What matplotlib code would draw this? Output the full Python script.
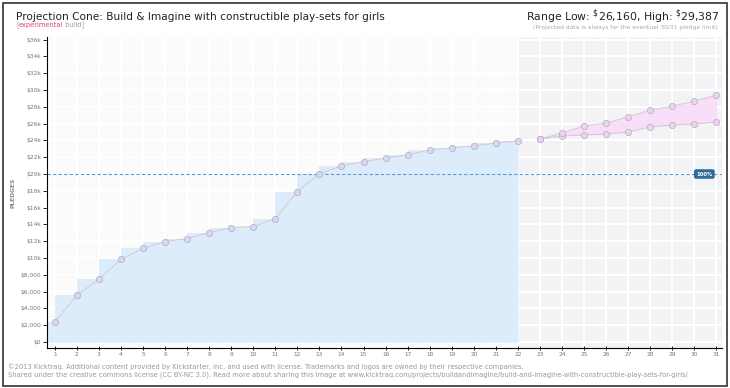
import numpy as np
import matplotlib
matplotlib.use("Agg")
import matplotlib.pyplot as plt
from matplotlib.patches import Rectangle
from matplotlib.ticker import FuncFormatter

# actual pledges (days 1-22)
days = list(range(1, 23))
pledged = [2370, 5570, 7465, 9835, 11140, 11970, 12320, 13035, 13630, 13745,
           14690, 17890, 20025, 20975, 21450, 21920, 22280, 22870, 23110, 23340,
           23700, 23930]

# projection cone (days 22-31)
proj_days = [22, 23, 24, 25, 26, 27, 28, 29, 30, 31]
proj_low = [23930, 24170, 24520, 24640, 24760, 25000, 25590, 25830, 25950, 26160]
proj_high = [23930, 24170, 24880, 25710, 26060, 26780, 27610, 28080, 28670, 29387]

goal = 20000
y_ticks = list(range(0, 36001, 2000))
x_ticks = list(range(1, 32))

title = "Projection Cone: Build & Imagine with constructible play-sets for girls"
footer1 = ("\u00a92013 Kicktraq. Additional content provided by Kickstarter, Inc. and used with license. "
           "Trademarks and logos are owned by their respective companies.")
footer2 = ("Shared under the creative commons license (CC BY-NC 3.0). Read more about sharing this image at "
           "www.kicktraq.com/projects/buildandimagine/build-and-imagine-with-constructible-play-sets-for-girls/")


def money(v, pos=None):
    if v == 0:
        return "$0"
    if v < 10000:
        return "${:,.0f}".format(v)
    return "${:.0f}k".format(v / 1000)


plt.rcParams['font.family'] = ['DejaVu Sans']

W, H = 730, 388
fig = plt.figure(figsize=(7.3, 3.88), dpi=100)
ax = fig.add_axes([47 / W, 40 / H, 675 / W, 311 / H])
ax.set_facecolor('#fbfbfb')

# projection region shading
ax.axvspan(22, 31.3, color='#f3f3f5', zorder=0)

# actual fills: step under, lavender between line and step
ax.fill_between([0.6] + days, [pledged[0]] + pledged, 0, color='#e7e3f7', zorder=1, lw=0)
ax.fill_between([0.6] + days, [pledged[0]] + pledged, 0, step='pre', color='#ddecfb', zorder=1, lw=0)

# projection cone
ax.fill_between(proj_days, proj_low, proj_high, color='#f8def8', zorder=1, lw=0)

# goal line
ax.axhline(goal, color='#5a9ccc', lw=0.8, ls=(0, (3, 2)), zorder=2)
ax.text(30.45, goal, "100%", fontsize=3.8, color='white', ha='center', va='center', zorder=6,
        fontweight='bold',
        bbox=dict(boxstyle='round,pad=0.3', fc='#2f6d99', ec='#2f6d99'))

# lines and markers
ax.plot(days, pledged, color='#cccccf', lw=0.7, zorder=3)
ax.plot(days, pledged, 'o', ms=4.5, mfc='#ddd6f0', mec='#b0a9cc', mew=0.5, zorder=4)
for serie in (proj_low, proj_high):
    ax.plot(proj_days[1:], serie[1:], color='#cccccf', lw=0.7, zorder=3)
    ax.plot(proj_days[1:], serie[1:], 'o', ms=4.5, mfc='#e8d6ee', mec='#bda6c6', mew=0.5, zorder=4)

ax.set_xlim(0.65, 31.25)
ax.set_ylim(-700, 36300)
ax.set_xticks(x_ticks)
ax.set_xticklabels([str(d) for d in x_ticks], fontsize=4.2, color='#777777')
ax.set_yticks(y_ticks)
ax.yaxis.set_major_formatter(FuncFormatter(money))
ax.tick_params(axis='y', labelsize=4.3, labelcolor='#777777', length=3, width=0.6, pad=1)
ax.tick_params(axis='x', length=3, width=0.6, pad=1.5, direction='inout')
ax.grid(True, color='white', lw=1.5, zorder=0)
ax.set_axisbelow(True)
for s in ['top', 'right']:
    ax.spines[s].set_visible(False)
ax.spines['left'].set_linewidth(0.8)
ax.spines['bottom'].set_linewidth(0.8)
ax.set_ylabel("PLEDGES", fontsize=4.3, color='#888888', fontweight='bold', labelpad=4)

# titles
fig.text(16 / W, 1 - 17 / H, title, fontsize=7.6, color='#222222', va='center', ha='left')

renderer = fig.canvas.get_renderer()
xpos = 16
for part, col in (("[", '#999999'), ("experimental", '#d9446a'), (" build]", '#999999')):
    t = fig.text(xpos / W, 1 - 25 / H, part, fontsize=4.8, color=col, va='center', ha='left')
    xpos += t.get_window_extent(renderer).width

fig.text(719 / W, 1 - 17 / H,
         r"Range Low: $^{\$}$26,160, High: $^{\$}$29,387",
         fontsize=7.8, color='#222222', va='center', ha='right')
fig.text(718 / W, 1 - 28 / H,
         "(Projected data is always for the eventual 30/31 pledge limit)",
         fontsize=4.3, color='#aaaaaa', va='center', ha='right')

fig.text(8 / W, 1 - 367 / H, footer1, fontsize=4.9, color='#999999', va='center')
fig.text(8 / W, 1 - 375 / H, footer2, fontsize=4.9, color='#999999', va='center')

# outer frame
fig.patches.append(Rectangle((3 / W, 2 / H), 724 / W, 383 / H, transform=fig.transFigure,
                             fill=False, ec='#333333', lw=1.2))

fig.savefig('out.png', dpi=100)
